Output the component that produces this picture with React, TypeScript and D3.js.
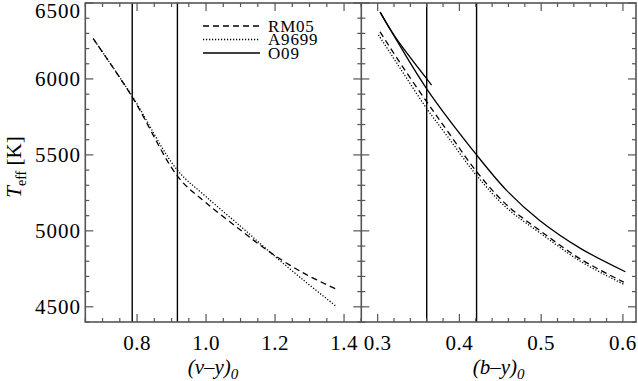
import * as d3 from "d3";

// (v-y)0 calibrations, [colour, Teff]
const vyRM05: [number, number][] = [
  [0.673, 6265], [0.785, 5885], [0.92, 5352], [1.0, 5185], [1.1, 5005],
  [1.18, 4868], [1.28, 4725], [1.379, 4615],
];
const vyA9699: [number, number][] = [
  [0.673, 6265], [0.785, 5890], [0.915, 5405], [1.0, 5225], [1.1, 5030],
  [1.18, 4870], [1.28, 4680], [1.379, 4500],
];

// (b-y)0 calibrations
const byRM05: [number, number][] = [
  [0.303, 6310], [0.33, 6085], [0.36, 5850], [0.385, 5660], [0.421, 5390],
  [0.458, 5170], [0.499, 5000], [0.548, 4815], [0.601, 4662],
];
const byA9699: [number, number][] = [
  [0.301, 6290], [0.33, 6050], [0.36, 5805], [0.385, 5625], [0.421, 5365],
  [0.458, 5150], [0.499, 4985], [0.548, 4800], [0.601, 4648],
];
const byO09: [number, number][] = [
  [0.303, 6440], [0.315, 6330], [0.36, 5935], [0.421, 5500], [0.458, 5265],
  [0.499, 5065], [0.548, 4885], [0.603, 4731],
];
const byO09b: [number, number][] = [
  [0.303, 6440], [0.321, 6280], [0.366, 5960],
];

const vyMarks = [0.786, 0.917];
const byMarks = [0.36, 0.421];

const tempTicks = [4500, 5000, 5500, 6000, 6500];
const tempMinor = d3.range(44, 66).map((i) => i * 100);
const vyTicks = [0.8, 1.0, 1.2, 1.4];
const vyMinor = d3.range(13, 30).map((i) => i * 0.05);
const byTicks = [0.3, 0.4, 0.5, 0.6];
const byMinor = d3.range(14, 31).map((i) => i * 0.02);

const legendNames = ["RM05", "A9699", "O09"];

const dashes: Record<string, string | undefined> = {
  RM05: "6,4",
  A9699: "1.2,1.8",
  O09: undefined,
};

const W = 638;
const H = 381;
const top = 3;
const bottom = 322;
const xa = 85.3;
const xm = 361.3;
const xb = 636;
const font = "Liberation Serif, DejaVu Serif, serif";
const axisColor = "#555";

export default function App() {
  const y = d3.scaleLinear().domain([4400, 6500]).range([bottom, top]);
  const xL = d3.scaleLinear().domain([0.65, 1.45]).range([xa, xm]);
  const xR = d3.scaleLinear().domain([0.28, 0.616]).range([xm, xb]);

  const lineL = d3
    .line<[number, number]>()
    .x((d) => xL(d[0]))
    .y((d) => y(d[1]))
    .curve(d3.curveCatmullRom.alpha(0.5));
  const lineR = d3
    .line<[number, number]>()
    .x((d) => xR(d[0]))
    .y((d) => y(d[1]))
    .curve(d3.curveCatmullRom.alpha(0.5));

  const isMajorT = (t: number) => t % 500 === 0;
  const near = (v: number, arr: number[]) => arr.some((a) => Math.abs(a - v) < 1e-6);

  // y ticks on each vertical frame line: [x, direction]
  const yTickEdges: [number, number][] = [
    [xa, 1],
    [xm, -1],
    [xm, 1],
    [xb, -1],
  ];

  return (
    <svg
      width={W}
      height={H}
      style={{ position: "absolute", left: 0, top: 0, background: "#fff", fontFamily: font }}
    >
      {/* curves */}
      <g fill="none" stroke="#000" strokeWidth={1.3}>
        <path d={lineL(vyRM05) ?? ""} strokeDasharray={dashes.RM05} />
        <path d={lineL(vyA9699) ?? ""} strokeDasharray={dashes.A9699} />
        <path d={lineR(byRM05) ?? ""} strokeDasharray={dashes.RM05} />
        <path d={lineR(byA9699) ?? ""} strokeDasharray={dashes.A9699} />
        <path d={lineR(byO09) ?? ""} />
        <path d={lineR(byO09b) ?? ""} />
      </g>

      {/* vertical reference lines */}
      <g stroke="#000" strokeWidth={1.4}>
        {vyMarks.map((v) => (
          <line key={"vl" + v} x1={xL(v)} x2={xL(v)} y1={top} y2={bottom} />
        ))}
        {byMarks.map((v) => (
          <line key={"br" + v} x1={xR(v)} x2={xR(v)} y1={top} y2={bottom} />
        ))}
      </g>

      {/* frames */}
      <g fill="none" stroke={axisColor} strokeWidth={1.6}>
        <rect x={xa} y={top} width={xb - xa} height={bottom - top} />
        <line x1={xm} x2={xm} y1={top} y2={bottom} />
      </g>

      {/* ticks */}
      <g stroke={axisColor} strokeWidth={1.2}>
        {yTickEdges.map(([ex, dir], k) =>
          tempMinor.map((t) => {
            const len = isMajorT(t) ? 8 : 4;
            return (
              <line
                key={`yt${k}-${t}`}
                x1={ex}
                x2={ex + dir * len}
                y1={y(t)}
                y2={y(t)}
              />
            );
          })
        )}
        {vyMinor.map((v) => {
          const len = near(v, vyTicks) ? 8 : 4;
          return (
            <g key={"vx" + v}>
              <line x1={xL(v)} x2={xL(v)} y1={bottom} y2={bottom - len} />
              <line x1={xL(v)} x2={xL(v)} y1={top} y2={top + len} />
            </g>
          );
        })}
        {byMinor.map((v) => {
          const len = near(v, byTicks) ? 8 : 4;
          return (
            <g key={"bx" + v}>
              <line x1={xR(v)} x2={xR(v)} y1={bottom} y2={bottom - len} />
              <line x1={xR(v)} x2={xR(v)} y1={top} y2={top + len} />
            </g>
          );
        })}
      </g>

      {/* y tick labels */}
      <g fontSize={21} letterSpacing={1} textAnchor="end" fill="#000">
        {tempTicks.map((t) => (
          <text key={"yl" + t} x={81} y={Math.max(y(t), 11)} dy="0.35em">
            {t}
          </text>
        ))}
      </g>

      {/* x tick labels */}
      <g fontSize={21} letterSpacing={0.5} textAnchor="middle" fill="#000">
        {vyTicks.map((v) => (
          <text key={"xl" + v} x={xL(v)} y={350}>
            {v.toFixed(1)}
          </text>
        ))}
        {byTicks.map((v) => (
          <text key={"xr" + v} x={xR(v)} y={350}>
            {v.toFixed(1)}
          </text>
        ))}
      </g>

      {/* axis titles */}
      <text x={213} y={374} fontSize={21} textAnchor="middle" fontStyle="italic">
        (v–y)
        <tspan fontSize={15} dy={5}>0</tspan>
      </text>
      <text x={(xm + xb) / 2} y={374} fontSize={21} textAnchor="middle" fontStyle="italic">
        (b–y)
        <tspan fontSize={15} dy={5}>0</tspan>
      </text>
      <text
        transform={`translate(21, 167) rotate(-90)`}
        fontSize={21}
        textAnchor="middle"
      >
        <tspan fontStyle="italic">T</tspan>
        <tspan fontSize={14} dy={5}>eff</tspan>
        <tspan dy={-5}> [K]</tspan>
      </text>

      {/* legend */}
      <g>
        {legendNames.map((name, i) => {
          const ly = 26 + i * 13.5;
          return (
            <g key={name}>
              <line
                x1={203}
                x2={260}
                y1={ly}
                y2={ly}
                stroke="#000"
                strokeWidth={1.3}
                strokeDasharray={dashes[name]}
              />
              <text x={268} y={ly} dy="0.35em" fontSize={17} letterSpacing={0.8}>
                {name}
              </text>
            </g>
          );
        })}
      </g>
    </svg>
  );
}
